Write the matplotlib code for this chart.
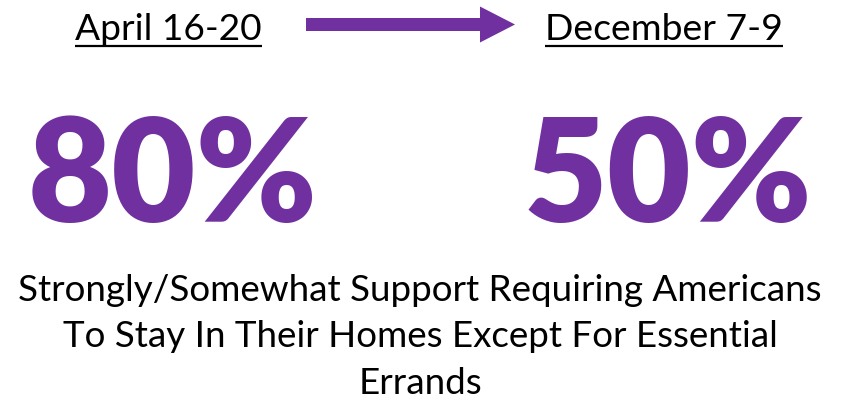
import matplotlib
matplotlib.use("Agg")
import matplotlib.pyplot as plt
from matplotlib.patches import FancyArrow

plt.rcParams['font.family'] = ['Lato', 'DejaVu Sans']

# data
periods = ["April 16-20", "December 7-9"]
shares = [80, 50]
caption = ["Strongly/Somewhat Support Requiring Americans",
           "To Stay In Their Homes Except For Essential",
           "Errands"]

purple = "#7030A0"

W, H = 841, 402
fig = plt.figure(figsize=(W / 100, H / 100), dpi=100)
ax = fig.add_axes([0, 0, 1, 1])
ax.set_xlim(0, W)
ax.set_ylim(H, 0)
ax.axis("off")
fig.canvas.draw()
renderer = fig.canvas.get_renderer()


def fit(t, width):
    # scale font so the text is as wide as in the picture
    for _ in range(3):
        bb = t.get_window_extent(renderer)
        t.set_fontsize(t.get_fontsize() * width / bb.width)
    return t


# header dates, underlined
for label, x0, x1 in zip(periods, [75, 545], [262, 783]):
    t = ax.text((x0 + x1) / 2, 40, label, ha="center", va="baseline",
                fontsize=20, color="black")
    fit(t, x1 - x0)
    ax.plot([x0, x1], [46.5, 46.5], color="black", lw=1.6,
            solid_capstyle="butt")

ax.add_patch(FancyArrow(306, 25.5, 209, 0, width=13, head_width=36,
                        head_length=35, length_includes_head=True,
                        color=purple, lw=0))

# big numbers
for val, x0, x1 in zip(shares, [28, 523], [318, 812]):
    t = ax.text((x0 + x1) / 2, 222, f"{val}%", ha="center", va="baseline",
                fontsize=100, fontweight="heavy", color=purple)
    fit(t, x1 - x0)

# caption
sizes = None
for i, line in enumerate(caption):
    t = ax.text(420, 301 + i * 46.5, line, ha="center", va="baseline",
                fontsize=20, color="black")
    if i == 0:
        fit(t, 804)
        sizes = t.get_fontsize()
    else:
        t.set_fontsize(sizes)

fig.savefig("out.png", dpi=100)
